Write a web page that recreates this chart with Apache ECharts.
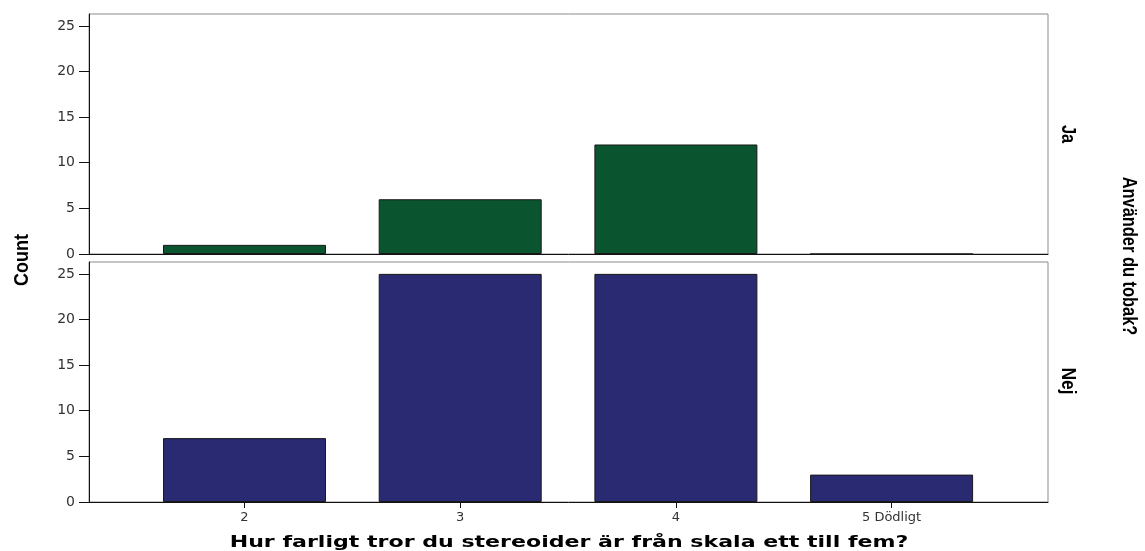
<!DOCTYPE html>
<html><head><meta charset="utf-8">
<script src="https://cdn.jsdelivr.net/npm/echarts@6/dist/echarts.min.js"></script>
<style>html,body{margin:0;padding:0;background:#fff}#c{width:1145px;height:551px}</style>
</head><body><div id="c"></div>
<script>
const categories = ['2', '3', '4', '5 Dödligt'];
const jaCounts = [1, 6, 12, 0];
const nejCounts = [7, 25, 25, 3];
const yTicks = [0, 5, 10, 15, 20, 25];
const yMax = 26.3;
const panelNames = ['Ja', 'Nej'];
const xTitle = 'Hur farligt tror du stereoider är från skala ett till fem?';
const yTitle = 'Count';
const facetTitle = 'Använder du tobak?';

const chart = echarts.init(document.getElementById('c'), null, {renderer: 'canvas'});

const frameL = 89, frameR = 1145 - 1048;
const panels = [{top: 14, h: 240}, {top: 262, h: 240}];
const band = 215.7;
const barL = 244.5 - band / 2;
const barR = 1145 - (244.5 + 3 * band + band / 2);
const yTickFont = {fontFamily: 'DejaVu Sans', fontSize: 14, color: '#333'};
const xTickFont = {fontFamily: 'DejaVu Sans', fontSize: 13, color: '#333'};
const sideFont = 'bold 20px "Liberation Sans", sans-serif';

const grids = [], xAxes = [], yAxes = [], series = [];
panels.forEach((p, i) => {
  grids.push({left: frameL, right: frameR, top: p.top, height: p.h, show: true,
    borderColor: '#8a8a8a', borderWidth: 1, backgroundColor: '#fff', containLabel: false});
  xAxes.push({gridIndex: i, type: 'value', min: 0, max: 1, axisLine: {show: true, lineStyle: {color: '#111', width: 1}},
    axisTick: {show: false}, axisLabel: {show: false}, splitLine: {show: false}});
  yAxes.push({gridIndex: i, type: 'value', min: 0, max: yMax,
    axisLine: {show: true, lineStyle: {color: '#111', width: 1}},
    axisTick: {show: true, length: 10, customValues: yTicks, lineStyle: {color: '#111'}},
    axisLabel: Object.assign({margin: 14, customValues: yTicks}, yTickFont),
    splitLine: {show: false}});
});
panels.forEach((p, i) => {
  const gi = i + 2;
  grids.push({left: barL, right: barR, top: p.top, height: p.h, show: false});
  const isBottom = i === 1;
  xAxes.push({gridIndex: gi, type: 'category', data: categories,
    axisLine: {show: false},
    axisTick: {show: isBottom, alignWithLabel: true, length: 6, lineStyle: {color: '#111'}},
    axisLabel: Object.assign({show: isBottom, margin: 9}, xTickFont)});
  yAxes.push({gridIndex: gi, type: 'value', min: 0, max: yMax, show: false, splitLine: {show: false}});
  series.push({type: 'bar', xAxisIndex: gi, yAxisIndex: gi, data: i === 0 ? jaCounts : nejCounts,
    barWidth: 163, silent: true, animation: false,
    itemStyle: {color: i === 0 ? '#0b5430' : '#292a72', borderColor: '#1a1a1a', borderWidth: 1}});
});

function sideText(txt, x, y, rot, sx) {
  return {type: 'text', x: x, y: y, rotation: rot, scaleX: sx,
    style: {text: txt, font: sideFont, fill: '#000', align: 'center', verticalAlign: 'middle'}};
}

chart.setOption({
  animation: false,
  grid: grids, xAxis: xAxes, yAxis: yAxes, series: series,
  graphic: [
    sideText(yTitle, 22, 260, Math.PI / 2, 0.9),
    sideText(panelNames[0], 1068, 134, -Math.PI / 2, 0.82),
    sideText(panelNames[1], 1068, 381, -Math.PI / 2, 0.87),
    sideText(facetTitle, 1129, 256, -Math.PI / 2, 0.82),
    {type: 'text', x: 569, y: 543, scaleX: 1.38,
      style: {text: xTitle, font: 'bold 16px "DejaVu Sans", sans-serif', fill: '#000', align: 'center', verticalAlign: 'middle'}}
  ]
});
</script></body></html>
